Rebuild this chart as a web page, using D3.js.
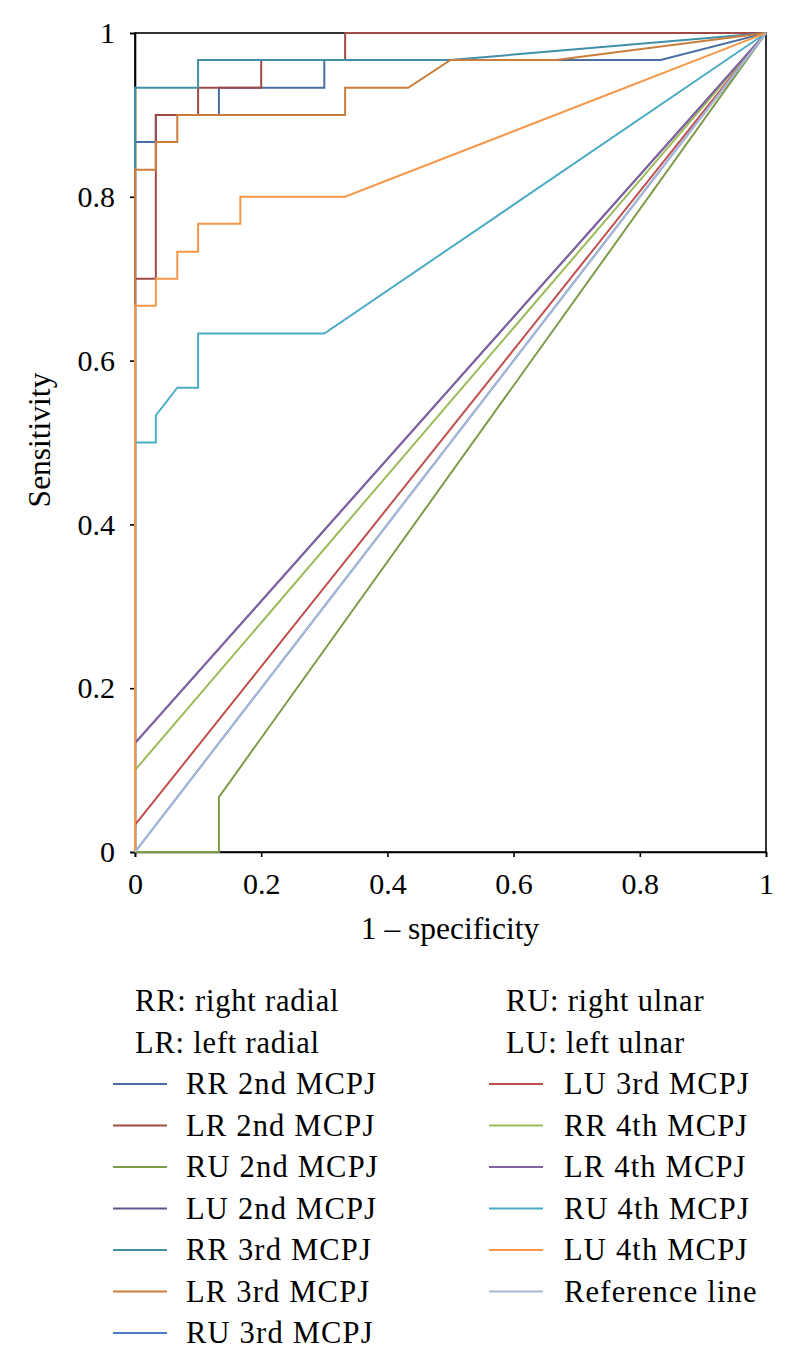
<!DOCTYPE html>
<html>
<head>
<meta charset="utf-8">
<script src="https://cdn.jsdelivr.net/npm/d3@7"></script>
<style>
  html, body { margin: 0; padding: 0; background: #fff; }
  svg { display: block; }
  text { font-family: "Liberation Serif", "DejaVu Serif", serif; fill: #000; }
</style>
</head>
<body>
<svg id="chart" width="790" height="1367"></svg>
<script>
// ---- data ----
const seriesNames = [
  "RR 2nd MCPJ", "LR 2nd MCPJ", "RU 2nd MCPJ", "LU 2nd MCPJ",
  "RR 3rd MCPJ", "LR 3rd MCPJ", "RU 3rd MCPJ", "LU 3rd MCPJ",
  "RR 4th MCPJ", "LR 4th MCPJ", "RU 4th MCPJ", "LU 4th MCPJ",
  "Reference line"
];
const seriesColors = [
  "#4a6fa3", "#a04a48", "#7e9b49", "#66558c",
  "#3f8fa6", "#cb7d3b", "#4a7dbf", "#c0504d",
  "#9bbb59", "#8064a2", "#4bacc6", "#f79646",
  "#a9b9d8"
];
const rr2 = [[0,0],[0,0.867],[0.033,0.867],[0.033,0.9],[0.133,0.9],[0.133,0.933],[0.3,0.933],[0.3,0.967],[0.833,0.967],[1,1]];
const lr2 = [[0,0],[0,0.7],[0.033,0.7],[0.033,0.9],[0.1,0.9],[0.1,0.933],[0.2,0.933],[0.2,0.967],[0.333,0.967],[0.333,1],[1,1]];
const ru2 = [[0,0],[0.133,0],[0.133,0.067],[1,1]];
const lu2 = [[0,0],[0,0.133],[1,1]];
const rr3 = [[0,0],[0,0.933],[0.1,0.933],[0.1,0.967],[0.5,0.967],[1,1]];
const lr3 = [[0,0],[0,0.833],[0.033,0.833],[0.033,0.867],[0.067,0.867],[0.067,0.9],[0.333,0.9],[0.333,0.933],[0.433,0.933],[0.5,0.967],[0.667,0.967],[1,1]];
const ru3 = [[0,0],[1,1]];
const lu3 = [[0,0],[0,0.033],[1,1]];
const rr4 = [[0,0],[0,0.1],[1,1]];
const lr4 = [[0,0],[0,0.133],[1,1]];
const ru4 = [[0,0],[0,0.5],[0.033,0.5],[0.033,0.533],[0.067,0.567],[0.1,0.567],[0.1,0.633],[0.3,0.633],[1,1]];
const lu4 = [[0,0],[0,0.667],[0.033,0.667],[0.033,0.7],[0.067,0.7],[0.067,0.733],[0.1,0.733],[0.1,0.767],[0.167,0.767],[0.167,0.8],[0.333,0.8],[1,1]];
const refLine = [[0,0],[1,1]];
const seriesValues = [rr2, lr2, ru2, lu2, rr3, lr3, ru3, lu3, rr4, lr4, ru4, lu4, refLine];

const xTicks = [0, 0.2, 0.4, 0.6, 0.8, 1];
const xTickLabels = ["0", "0.2", "0.4", "0.6", "0.8", "1"];
const yTicks = [0, 0.2, 0.4, 0.6, 0.8, 1];
const yTickLabels = ["0", "0.2", "0.4", "0.6", "0.8", "1"];
const xTitle = "1 \u2013 specificity";
const yTitle = "Sensitivity";
const legendHeadersLeft = ["RR: right radial", "LR: left radial"];
const legendHeadersRight = ["RU: right ulnar", "LU: left ulnar"];

// ---- layout ----
const svg = d3.select("#chart");
const X0 = 135, X1 = 766, Y0 = 852, Y1 = 33;
const x = d3.scaleLinear().domain([0, 1]).range([X0, X1]);
const y = d3.scaleLinear().domain([0, 1]).range([Y0, Y1]);

// frame
svg.append("rect")
  .attr("x", X0).attr("y", Y1).attr("width", X1 - X0).attr("height", Y0 - Y1)
  .attr("fill", "none").attr("stroke", "#000").attr("stroke-width", 1.6);

// axes
const xAxis = svg.append("g").attr("transform", `translate(0,${Y0})`)
  .call(d3.axisBottom(x).tickValues(xTicks).tickFormat((d, i) => xTickLabels[i]).tickSize(5).tickPadding(16));
const yAxis = svg.append("g").attr("transform", `translate(${X0},0)`)
  .call(d3.axisLeft(y).tickValues(yTicks).tickFormat((d, i) => yTickLabels[i]).tickSize(5).tickPadding(15));
[xAxis, yAxis].forEach(g => {
  g.select(".domain").attr("stroke", "#000").attr("stroke-width", 1.6);
  g.selectAll(".tick line").attr("stroke", "#000").attr("stroke-width", 1.6);
  g.selectAll(".tick text").attr("font-family", "Liberation Serif").attr("font-size", 30).attr("fill", "#000");
});

// titles
svg.append("text").attr("x", 450).attr("y", 939).attr("text-anchor", "middle")
  .attr("font-size", 31.5).text(xTitle);
svg.append("text").attr("transform", "translate(50,440) rotate(-90)").attr("text-anchor", "middle")
  .attr("font-size", 31.5).text(yTitle);

// series
const line = d3.line().x(d => x(d[0])).y(d => y(d[1]));
svg.append("g").selectAll("path").data(seriesValues).join("path")
  .attr("d", d => line(d))
  .attr("fill", "none")
  .attr("stroke", (d, i) => seriesColors[i])
  .attr("stroke-width", 2)
  .attr("stroke-linejoin", "miter");

// legend
const rowH = 41.5, base0 = 1011, fs = 30.5;
const leg = svg.append("g").attr("font-size", fs);
legendHeadersLeft.forEach((t, i) => leg.append("text").attr("x", 135).attr("y", base0 + i * rowH)
  .attr("letter-spacing", 0.8).text(t));
legendHeadersRight.forEach((t, i) => leg.append("text").attr("x", 506).attr("y", base0 + i * rowH)
  .attr("letter-spacing", 0.8).text(t));
seriesNames.forEach((name, i) => {
  const col = i < 7 ? 0 : 1;
  const row = (col === 0 ? i : i - 7) + 2;
  const by = base0 + row * rowH;
  const sx = col === 0 ? 113 : 489;
  const tx = col === 0 ? 186 : 564;
  leg.append("line").attr("x1", sx).attr("x2", sx + 54).attr("y1", by - 10).attr("y2", by - 10)
    .attr("stroke", seriesColors[i]).attr("stroke-width", 2);
  leg.append("text").attr("x", tx).attr("y", by).attr("letter-spacing", 1.2).text(name);
});
</script>
</body>
</html>
